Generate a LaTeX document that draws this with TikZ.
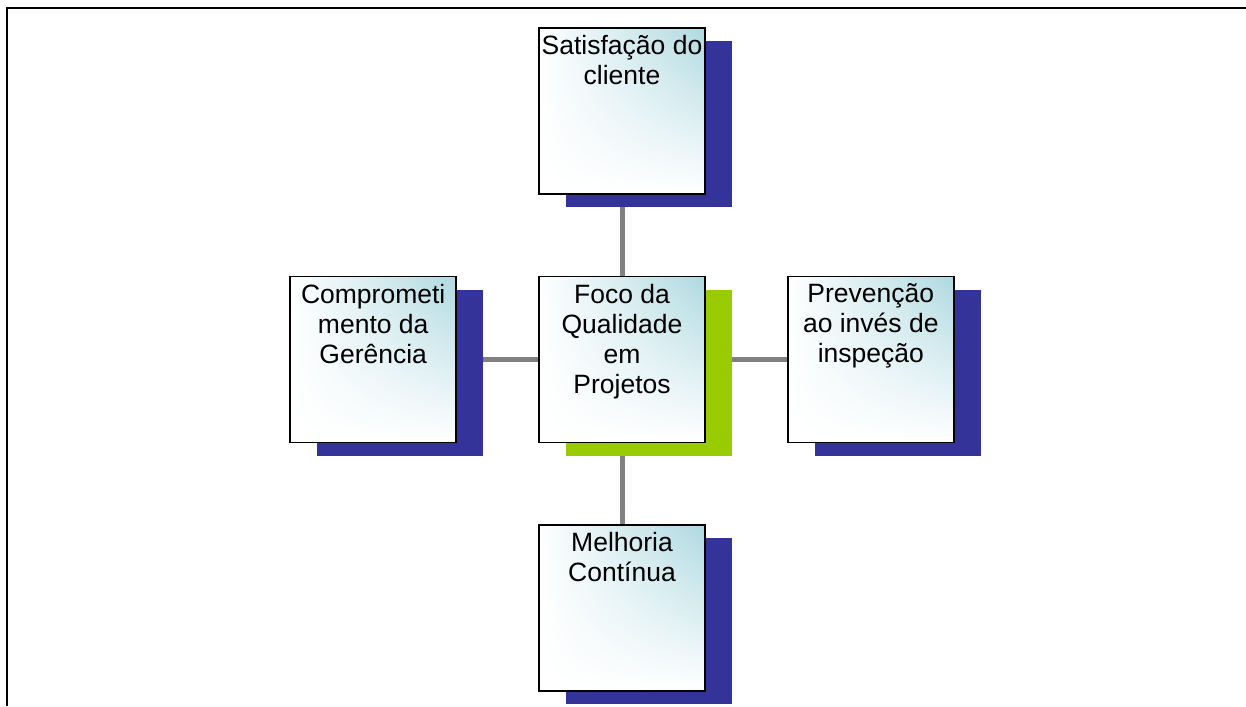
\documentclass[tikz,border=0pt]{standalone}
\usepackage{fontspec}
\setmainfont{Liberation Sans}
\usetikzlibrary{positioning,shadows,shadings,backgrounds}

\definecolor{azul}{RGB}{51,51,153}
\definecolor{verde}{RGB}{153,204,0}
\definecolor{ciano}{RGB}{174,217,224}
\definecolor{cinza}{RGB}{128,128,128}

\tikzset{
  caixa/.style={draw=black, line width=1.8pt, inner sep=0pt,
    minimum width=166pt, minimum height=166pt,
    upper right=ciano, upper left=white, lower left=white, lower right=white,
    general shadow={fill=#1, shadow xshift=27pt, shadow yshift=-13pt}},
  caixa/.default=azul,
  rotulo/.style={align=center, inner sep=0pt, anchor=north,
    font=\fontsize{26.5}{30}\selectfont},
  conector/.style={draw=cinza, line width=5pt},
  moldura/.style={line width=2.5pt}
}

\begin{document}
\begin{tikzpicture}[x=1pt,y=-1pt,node distance=81pt]
  \useasboundingbox (0,0) rectangle (1246,706);
  \draw[moldura] (7,706) -- (7,8) -- (1246,8);

  \node[caixa=verde] (foco) at (622,359.5) {};
  \node[caixa, above=of foco] (satisf) {};
  \node[caixa, below=of foco] (melhoria) {};
  \node[caixa, left=of foco] (compr) {};
  \node[caixa, right=of foco] (prev) {};

  % textos no topo de cada caixa
  \node[rotulo] (foco-t) at ([yshift=-8pt]foco.north) {Foco da\\Qualidade\\em\\Projetos};
  \node[rotulo] (satisf-t) at ([yshift=-8pt]satisf.north) {Satisfação do\\cliente};
  \node[rotulo] (melhoria-t) at ([yshift=-8pt]melhoria.north) {Melhoria\\Contínua};
  \node[rotulo] (compr-t) at ([yshift=-8pt]compr.north) {Comprometi\\mento da\\Gerência};
  \node[rotulo] (prev-t) at ([yshift=-8pt]prev.north) {Prevenção\\ao invés de\\inspeção};

  \begin{pgfonlayer}{background}
    \foreach \n in {satisf,melhoria,compr,prev}
      \draw[conector] (foco) -- (\n);
  \end{pgfonlayer}
\end{tikzpicture}
\end{document}
